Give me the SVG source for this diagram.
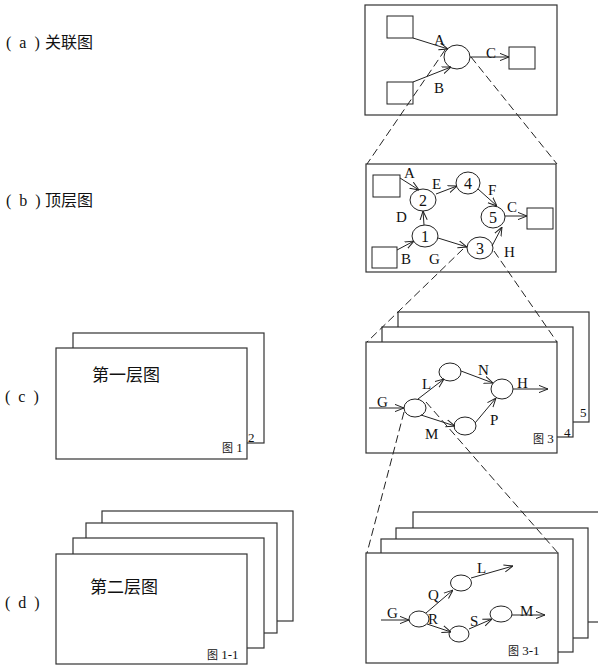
<svg xmlns="http://www.w3.org/2000/svg" width="598" height="666" viewBox="0 0 598 666">
<defs>
<marker id="arr" viewBox="0 0 10 10" refX="10" refY="5" markerWidth="9" markerHeight="9" markerUnits="userSpaceOnUse" orient="auto">
<path d="M0,1 L10,5 L0,9" fill="none" stroke="#222" stroke-width="1.1"/>
</marker>
</defs>
<style>
.box{fill:#fff;stroke:#333;stroke-width:1.2}
.nd{fill:#fff;stroke:#222;stroke-width:1}
.ln{fill:none;stroke:#222;stroke-width:1;marker-end:url(#arr)}
.dash{fill:none;stroke:#222;stroke-width:1;stroke-dasharray:8,4}
.lt{font-family:"Liberation Serif",serif;font-size:15px;fill:#111}
.pl{font-family:"Liberation Serif",serif;font-size:16px;letter-spacing:2px;fill:#111}
.num{font-family:"Liberation Serif",serif;font-size:16px;fill:#111;text-anchor:middle}
.cj{font-family:"Noto Sans CJK SC",sans-serif;font-size:16px;fill:#111}
.cjb{font-family:"Noto Sans CJK SC",sans-serif;font-size:17px;fill:#111}
.sm{font-family:"Noto Sans CJK SC",sans-serif;font-size:11px;fill:#111}
.sms{font-family:"Liberation Serif",serif;font-size:13px;fill:#111}
</style>
<rect width="598" height="666" fill="#fff"/>

<g id="labels">
<text x="6" y="48"><tspan class="pl">( a )</tspan><tspan class="cj" x="45">关联图</tspan></text>
<text x="6" y="206"><tspan class="pl">( b )</tspan><tspan class="cj" x="45">顶层图</tspan></text>
<text x="5" y="402" class="pl">( c )</text>
<text x="5" y="608" class="pl">( d )</text>
</g>

<g id="panel-c-left">
<rect class="box" x="73" y="333" width="191" height="110"/>
<rect class="box" x="56" y="348" width="191" height="111"/>
<text class="cjb" x="92" y="381">第一层图</text>
<text x="222" y="452"><tspan class="sm">图</tspan><tspan class="sms"> 1</tspan></text>
<text class="sms" x="248" y="442">2</text>
</g>

<g id="panel-d-left">
<rect class="box" x="102" y="511" width="191" height="110"/>
<rect class="box" x="86" y="523" width="191" height="110"/>
<rect class="box" x="73" y="538" width="191" height="110"/>
<rect class="box" x="56" y="554" width="191" height="110"/>
<text class="cjb" x="90" y="593">第二层图</text>
<text x="207" y="659"><tspan class="sm">图</tspan><tspan class="sms"> 1-1</tspan></text>
</g>

<g id="panel-a">
<rect class="box" x="365" y="5" width="192" height="110"/>
<g id="a-src1"><rect class="nd" x="387" y="16" width="26" height="22"/></g>
<g id="a-src2"><rect class="nd" x="387" y="82" width="26" height="22"/></g>
<g id="a-proc"><ellipse class="nd" cx="457" cy="57" rx="13" ry="12"/></g>
<g id="a-dst"><rect class="nd" x="509" y="47" width="26" height="22"/></g>
</g>

<g id="panel-b">
<rect class="box" x="366" y="164" width="190" height="108"/>
<g id="b-src1"><rect class="nd" x="373" y="175" width="27" height="22"/></g>
<g id="b-src2"><rect class="nd" x="372" y="247" width="25" height="21"/></g>
<g id="b-dst"><rect class="nd" x="527" y="208" width="26" height="21"/></g>
<g id="b-n2"><ellipse class="nd" cx="423" cy="200" rx="13" ry="11"/><text class="num" x="423" y="206">2</text></g>
<g id="b-n4"><ellipse class="nd" cx="468" cy="183" rx="12" ry="11"/><text class="num" x="468" y="189">4</text></g>
<g id="b-n5"><ellipse class="nd" cx="493" cy="217" rx="12" ry="11"/><text class="num" x="493" y="223">5</text></g>
<g id="b-n1"><ellipse class="nd" cx="425" cy="236" rx="13" ry="11"/><text class="num" x="425" y="242">1</text></g>
<g id="b-n3"><ellipse class="nd" cx="480" cy="248" rx="13" ry="11"/><text class="num" x="480" y="254">3</text></g>
</g>

<g id="panel-c-right">
<rect class="box" x="398" y="312" width="191" height="110"/>
<rect class="box" x="382" y="327" width="191" height="110"/>
<rect class="box" x="366" y="342" width="191" height="111"/>
<text class="sms" x="580" y="417">5</text>
<text class="sms" x="564" y="437">4</text>
<text x="533" y="443"><tspan class="sm">图</tspan><tspan class="sms"> 3</tspan></text>
<g id="c-n1"><ellipse class="nd" cx="415" cy="408" rx="11" ry="9"/></g>
<g id="c-n2"><ellipse class="nd" cx="450" cy="372" rx="11" ry="9"/></g>
<g id="c-n3"><ellipse class="nd" cx="465" cy="426" rx="11" ry="9"/></g>
<g id="c-n4"><ellipse class="nd" cx="502" cy="389" rx="11" ry="10"/></g>
</g>

<g id="panel-d-right">
<rect class="box" x="413" y="512" width="200" height="110"/>
<rect class="box" x="396" y="528" width="192" height="110"/>
<rect class="box" x="381" y="539" width="192" height="113"/>
<rect class="box" x="366" y="553" width="192" height="110"/>
<text x="508" y="655"><tspan class="sm">图</tspan><tspan class="sms"> 3-1</tspan></text>
<g id="d-n1"><ellipse class="nd" cx="419" cy="619" rx="10" ry="8"/></g>
<g id="d-n2"><ellipse class="nd" cx="461" cy="583" rx="10.5" ry="8"/></g>
<g id="d-n3"><ellipse class="nd" cx="459" cy="634" rx="10" ry="8"/></g>
<g id="d-n4"><ellipse class="nd" cx="501" cy="614" rx="11" ry="8"/></g>
</g>

<g id="connectors">
<line class="ln" x1="413" y1="38" x2="448" y2="49"/>
<line class="ln" x1="413" y1="82" x2="451" y2="67"/>
<line class="ln" x1="470" y1="57" x2="509" y2="57"/>
<line class="ln" x1="400" y1="178" x2="419" y2="190"/>
<line class="ln" x1="436" y1="194" x2="457" y2="186"/>
<line class="ln" x1="478" y1="189" x2="497" y2="206"/>
<line class="ln" x1="505" y1="216" x2="527" y2="216"/>
<line class="ln" x1="424" y1="225" x2="423" y2="211"/>
<line class="ln" x1="397" y1="250" x2="414" y2="241"/>
<line class="ln" x1="438" y1="238" x2="467" y2="247"/>
<line class="ln" x1="492" y1="246" x2="502" y2="227"/>
<line class="ln" x1="369" y1="408" x2="404" y2="408"/>
<line class="ln" x1="418" y1="399" x2="444" y2="379"/>
<line class="ln" x1="461" y1="371" x2="493" y2="383"/>
<line class="ln" x1="421" y1="415" x2="455" y2="426"/>
<line class="ln" x1="475" y1="423" x2="496" y2="398"/>
<line class="ln" x1="513" y1="389" x2="548" y2="389"/>
<line class="ln" x1="381" y1="620" x2="409" y2="620"/>
<line class="ln" x1="426" y1="613" x2="453" y2="590"/>
<line class="ln" x1="471" y1="578" x2="513" y2="566"/>
<line class="ln" x1="427" y1="624" x2="451" y2="632"/>
<line class="ln" x1="469" y1="629" x2="492" y2="619"/>
<line class="ln" x1="512" y1="615" x2="545" y2="615"/>
<line class="dash" x1="445" y1="50" x2="367" y2="164"/>
<line class="dash" x1="471" y1="57" x2="557" y2="164"/>
<line class="dash" x1="463" y1="249" x2="367" y2="342"/>
<line class="dash" x1="494" y1="251" x2="557" y2="342"/>
<line class="dash" x1="404" y1="412" x2="367" y2="553"/>
<line class="dash" x1="426" y1="402" x2="558" y2="553"/>
</g>

<g id="edge-labels">
<text class="lt" x="434" y="45">A</text>
<text class="lt" x="434" y="93">B</text>
<text class="lt" x="486" y="58">C</text>
<text class="lt" x="404" y="178">A</text>
<text class="lt" x="432" y="189">E</text>
<text class="lt" x="488" y="195">F</text>
<text class="lt" x="507" y="212">C</text>
<text class="lt" x="396" y="222">D</text>
<text class="lt" x="401" y="264">B</text>
<text class="lt" x="429" y="264">G</text>
<text class="lt" x="504" y="257">H</text>
<text class="lt" x="377" y="407">G</text>
<text class="lt" x="422" y="389">L</text>
<text class="lt" x="478" y="375">N</text>
<text class="lt" x="517" y="388">H</text>
<text class="lt" x="425" y="439">M</text>
<text class="lt" x="490" y="425">P</text>
<text class="lt" x="387" y="618">G</text>
<text class="lt" x="428" y="600">Q</text>
<text class="lt" x="477" y="573">L</text>
<text class="lt" x="428" y="624">R</text>
<text class="lt" x="470" y="626">S</text>
<text class="lt" x="520" y="616">M</text>
</g>
</svg>
